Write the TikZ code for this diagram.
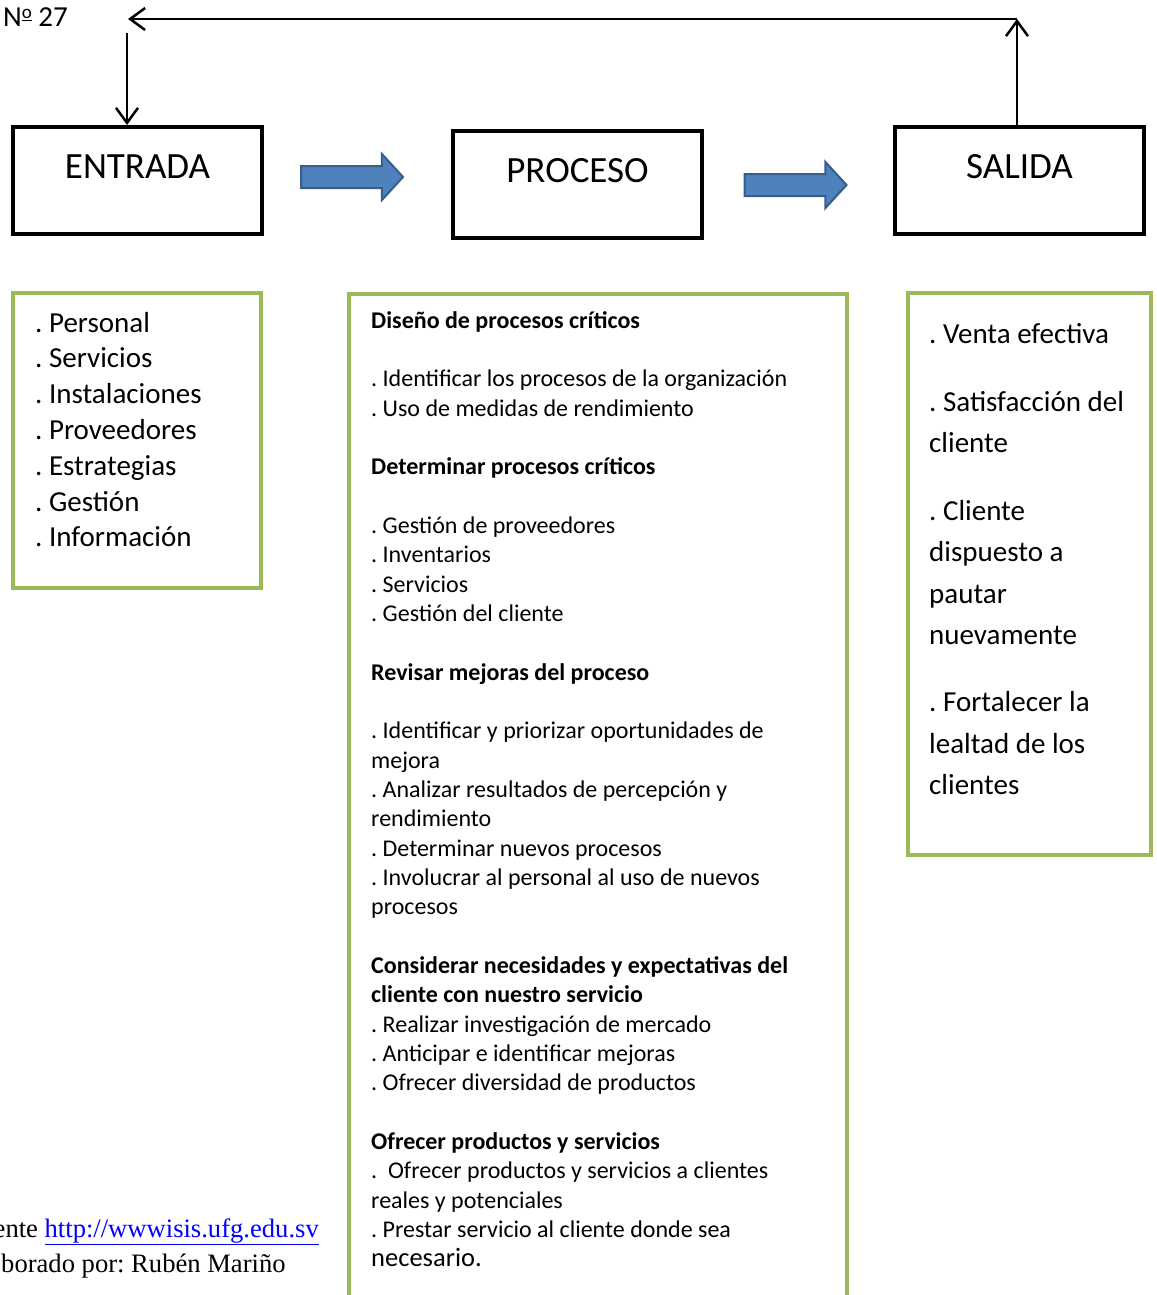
\documentclass[tikz,border=0pt]{standalone}
\usepackage{fontspec}
\setmainfont{Carlito}
\newfontfamily\serifa{Liberation Serif}
\usetikzlibrary{arrows.meta, shapes.arrows, positioning}

\definecolor{verde}{HTML}{9BBB59}
\definecolor{azul}{HTML}{4F81BD}
\definecolor{azulborde}{HTML}{385D8A}
\definecolor{enlace}{HTML}{0000FF}

\tikzset{
  bloque/.style={draw, line width=4pt, minimum width=249pt, minimum height=107pt,
    inner sep=0pt, font=\fontsize{37}{44}\selectfont, text height=24pt, text depth=29pt},
  marco/.style={draw=verde, line width=4pt},
  flecha/.style={line width=2.5pt, -{Straight Barb[length=15pt,width=22pt]}},
  gruesa/.style={single arrow, fill=azul, draw=azulborde, line width=2pt,
    inner xsep=0pt, inner ysep=10pt, minimum width=46pt, minimum height=102pt,
    single arrow head extend=12pt, single arrow tip angle=95},
  elemento/.style={anchor=base west, inner sep=0pt, font=\fontsize{29}{35}\selectfont},
  paso/.style={anchor=base west, inner sep=0pt, font=\fontsize{24}{29}\selectfont},
  pie/.style={inner sep=0pt, font=\serifa\fontsize{26.6}{32}\selectfont},
}

\begin{document}
\frenchspacing
\begin{tikzpicture}[x=1pt, y=-1pt]
  \useasboundingbox (0,0) rectangle (1156,1295);
  \clip (0,0) rectangle (1156,1295);

  % Cajas principales
  \node[bloque] (entrada) at (137.5,180.5) {ENTRADA};
  \node[bloque] (proceso) at (577.5,184.5) {PROCESO};
  \node[bloque] (salida) at (1019.5,180.5) {SALIDA};

  % Flechas azules
  \node[gruesa] (paso1) at (347,177) {};
  \node[gruesa] (paso2) at (790.5,185) {};

  % Retroalimentacion
  \node[elemento] (numero) at (3,27)
    {N\raisebox{8.5pt}{\fontsize{19}{19}\selectfont\underline{o}} 27};
  \coordinate (retorno) at (1017,19);
  \coordinate (vuelta) at (128,19);
  \coordinate (bajada) at (127,33);
  \draw[flecha] (salida.north -| retorno) -- (retorno);
  \draw[flecha] (retorno) -- (vuelta);
  \draw[flecha] (bajada) -- (bajada |- entrada.north);

  % Marcos verdes
  \draw[marco] (13,293) rectangle (261,588);
  \draw[marco] (349,1300) |- (847,294) -- (847,1300);
  \draw[marco] (908,293) rectangle (1151,855);

  % Entradas
  \foreach \txt [count=\i from 0] in {. Personal, . Servicios, . Instalaciones,
      . Proveedores, . Estrategias, . Gestión, . Información}
    \node[elemento] (ent-\i) at (35,{332+35.8*\i}) {\txt};

  % Proceso
  \foreach \n/\txt in {0/{\bfseries Diseño de procesos críticos},
      2/. Identificar los procesos de la organización,
      3/. Uso de medidas de rendimiento,
      5/{\bfseries Determinar procesos críticos},
      7/. Gestión de proveedores,
      8/. Inventarios,
      9/. Servicios,
      10/. Gestión del cliente,
      12/{\bfseries Revisar mejoras del proceso},
      14/. Identificar y priorizar oportunidades de,
      15/mejora,
      16/. Analizar resultados de percepción y,
      17/rendimiento,
      18/. Determinar nuevos procesos,
      19/. Involucrar al personal al uso de nuevos,
      20/procesos,
      22/{\bfseries Considerar necesidades y expectativas del},
      23/{\bfseries cliente con nuestro servicio},
      24/. Realizar investigación de mercado,
      25/. Anticipar e identificar mejoras,
      26/. Ofrecer diversidad de productos,
      28/{\bfseries Ofrecer productos y servicios},
      29/.\ \ Ofrecer productos y servicios a clientes,
      30/reales y potenciales,
      31/. Prestar servicio al cliente donde sea,
      32/{\fontsize{26.5}{30}\selectfont necesario.}}
    \node[paso] (proc-\n) at (371,{328+29.34*\n}) {\txt};

  % Salidas
  \foreach \y/\txt [count=\i] in {343/. Venta efectiva, 411/. Satisfacción del,
      452/cliente, 520/. Cliente, 561/dispuesto a, 603/pautar, 644/nuevamente,
      711/. Fortalecer la, 753/lealtad de los, 794/clientes}
    \node[elemento] (sal-\i) at (929,\y) {\txt};

  % Fuente
  \node[pie, anchor=base east] (fuente) at (319,1237)
    {ente \textcolor{enlace}{\underline{http://wwwisis.ufg.edu.sv}}};
  \node[pie, anchor=base west] (autor) at (1,1272) {borado por: Rubén Mariño};
\end{tikzpicture}
\end{document}
